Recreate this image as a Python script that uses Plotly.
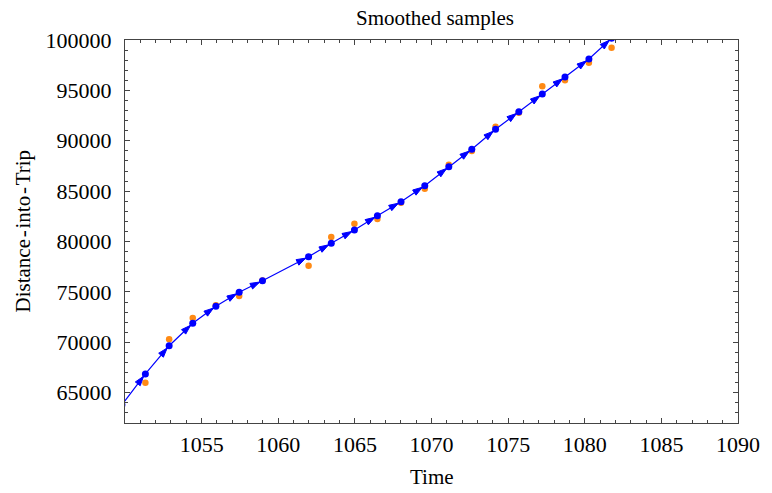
import plotly.graph_objects as go

# Sample times (the first one lies just before the visible window)
times = [1049.80, 1051.33, 1052.88, 1054.42, 1055.93, 1057.45, 1058.97,
         1061.98, 1063.46, 1064.97, 1066.47, 1068.01, 1069.56, 1071.13,
         1072.63, 1074.18, 1075.70, 1077.23, 1078.71, 1080.27, 1081.75]

# Smoothed distance estimates (blue)
smoothed = [63800, 66870, 69670, 71890, 73580, 74970, 76120,
            78500, 79830, 81150, 82570, 83960, 85550, 87430,
            89160, 91140, 92890, 94640, 96330, 98110, 100170]

# Raw distance samples (orange), one per time after the first
raw_times = times[1:]
raw = [66000, 70310, 72420, 73690, 74610, 76150,
       77610, 80460, 81780, 82240, 83860, 85250, 87630,
       88990, 91400, 92790, 95410, 96000, 97750, 99240]

x_ticks = [1055, 1060, 1065, 1070, 1075, 1080, 1085, 1090]
y_ticks = [65000, 70000, 75000, 80000, 85000, 90000, 95000, 100000]

FONT = "Liberation Serif"
FSIZE = 22
BLUE = "#0000ff"
ORANGE = "#ff8a14"
FRAME = "#444444"

fig = go.Figure()

# raw samples underneath
fig.add_trace(go.Scatter(
    x=raw_times, y=raw, mode="markers",
    marker=dict(color=ORANGE, size=6.5, line=dict(width=0)),
    cliponaxis=True, hoverinfo="skip", showlegend=False))

# connecting path of the smoothed estimates
fig.add_trace(go.Scatter(
    x=times, y=smoothed, mode="lines",
    line=dict(color=BLUE, width=1.2),
    cliponaxis=True, hoverinfo="skip", showlegend=False))

# arrowheads pointing along each segment, set back slightly from the segment end
arrow_sizes = [0] + [10] * (len(times) - 1)
fig.add_trace(go.Scatter(
    x=times, y=smoothed, mode="markers",
    marker=dict(symbol="arrow", angleref="previous", size=arrow_sizes,
                standoff=3, color=BLUE, opacity=1,
                line=dict(color=BLUE, width=1)),
    cliponaxis=True, hoverinfo="skip", showlegend=False))

# smoothed points
fig.add_trace(go.Scatter(
    x=times, y=smoothed, mode="markers",
    marker=dict(color=BLUE, size=7, line=dict(width=0)),
    cliponaxis=True, hoverinfo="skip", showlegend=False))

axis_common = dict(
    showgrid=False, zeroline=False,
    showline=True, linecolor=FRAME, linewidth=1, mirror="allticks",
    ticks="inside", ticklen=5, tickwidth=1, tickcolor=FRAME,
    tickfont=dict(family=FONT, size=FSIZE, color="black"),
)

fig.update_xaxes(
    range=[1050, 1090], tickvals=x_ticks, ticktext=[str(v) for v in x_ticks],
    minor=dict(dtick=1, tick0=1050, ticks="inside", ticklen=3, tickcolor=FRAME, tickwidth=1),
    ticklabelstandoff=2,
    **axis_common)
fig.update_yaxes(
    range=[62000, 100000], tickvals=y_ticks, ticktext=[str(v) for v in y_ticks],
    minor=dict(dtick=1000, tick0=62000, ticks="inside", ticklen=3, tickcolor=FRAME, tickwidth=1),
    ticklabelstandoff=8,
    **axis_common)

fig.update_layout(
    width=772, height=493,
    margin=dict(l=125, r=26, t=40, b=70),
    paper_bgcolor="white", plot_bgcolor="white",
    font=dict(family=FONT, size=FSIZE, color="black"),
    title=dict(text="Smoothed samples", x=0.5635, xanchor="center",
               y=0.965, yref="container", yanchor="middle",
               font=dict(family=FONT, size=FSIZE - 1, color="black")),
    annotations=[
        dict(text="Time", xref="paper", yref="paper", x=0.5, y=0,
             xanchor="center", yanchor="middle", yshift=-54, showarrow=False,
             font=dict(family=FONT, size=FSIZE - 1, color="black")),
        dict(text="Distance\u200a-\u200ainto\u200a-\u200aTrip", xref="paper", yref="paper",
             x=0, y=0.5, xanchor="center", yanchor="middle", xshift=-103,
             textangle=-90, showarrow=False,
             font=dict(family=FONT, size=FSIZE - 1, color="black")),
    ],
)

fig.write_html("out.html")
